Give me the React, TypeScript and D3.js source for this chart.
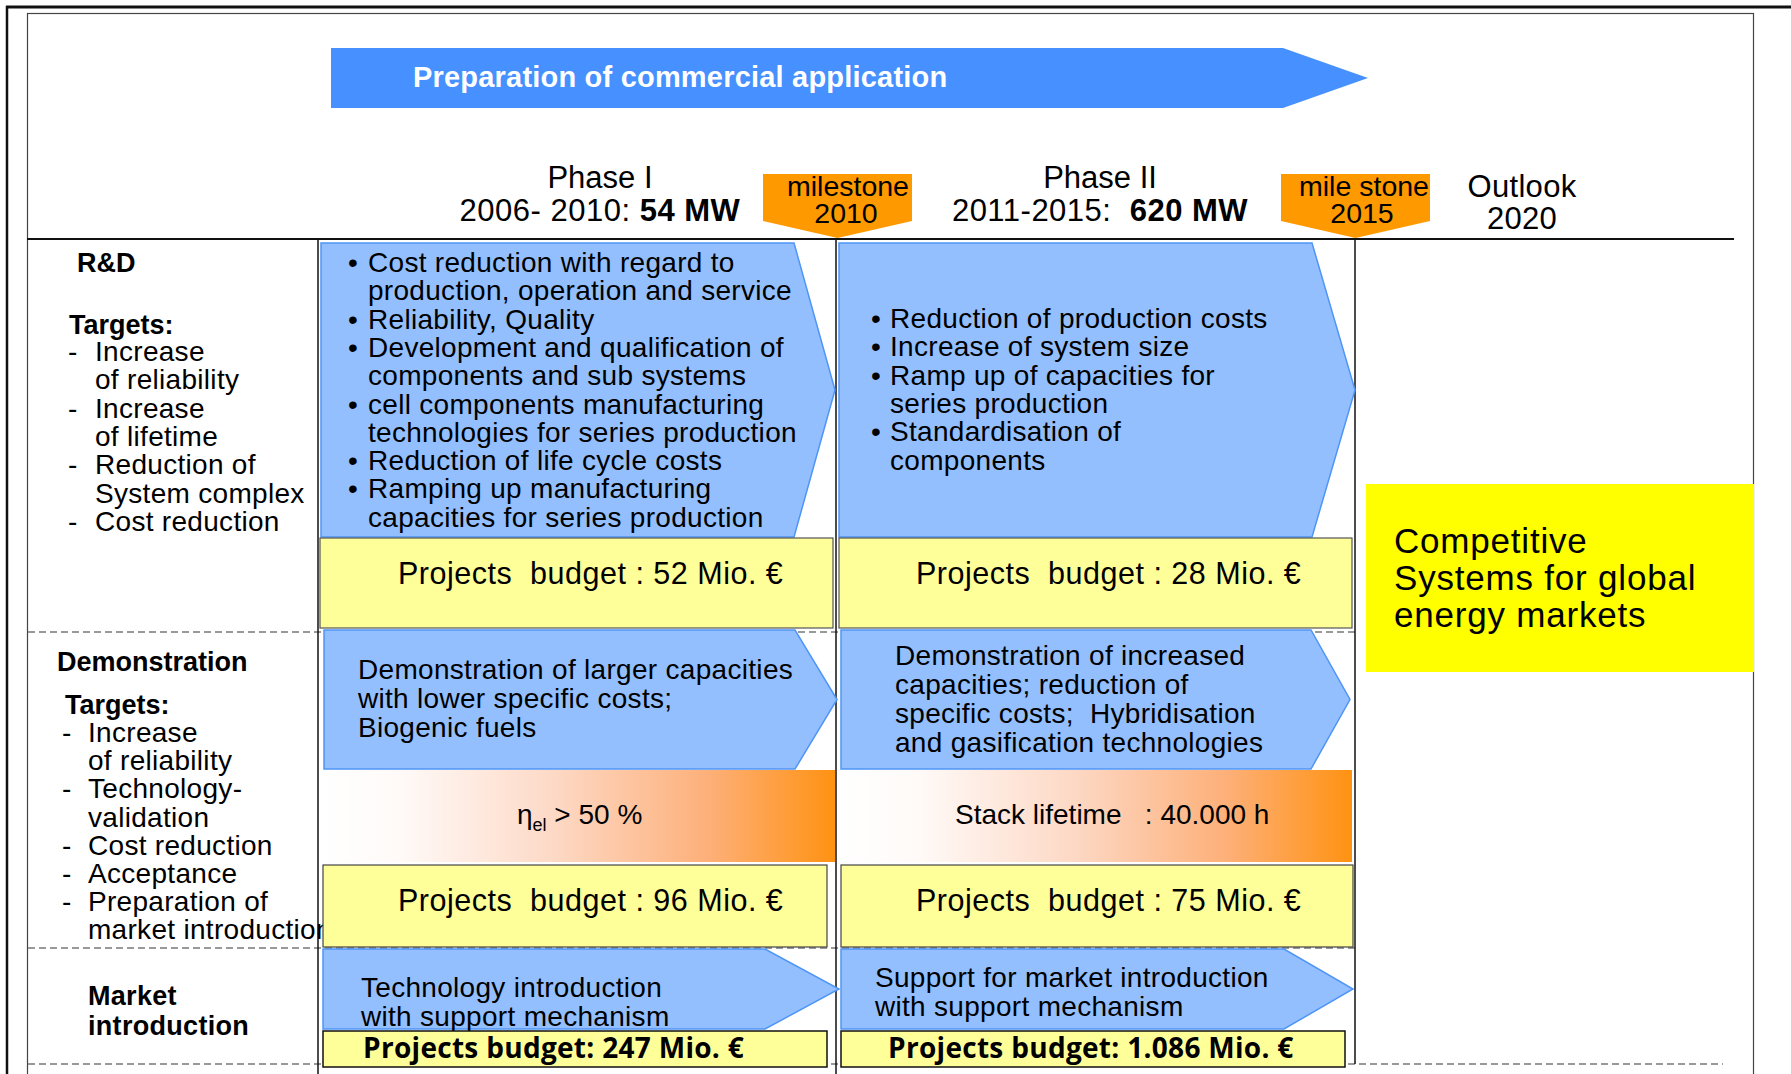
import React from "react";
import * as d3 from "d3";

// ---- content of the roadmap ----
const banner = "Preparation of commercial application";
const phases = ["Phase I", "Phase II"];
const periods = ["2006- 2010: ", "2011-2015:  "];
const capacities = ["54 MW", "620 MW"];
const milestoneWords = ["milestone", "mile stone"];
const milestoneYears = ["2010", "2015"];
const outlook = ["Outlook", "2020"];
const outlookGoal = ["Competitive", "Systems for global", "energy markets"];

const rowTitles = ["R&D", "Demonstration"];
const rdTargets = [
  ["Increase", "of reliability"],
  ["Increase", "of lifetime"],
  ["Reduction of", "System complex"],
  ["Cost reduction"],
];
const demoTargets = [
  ["Increase", "of reliability"],
  ["Technology-", "validation"],
  ["Cost reduction"],
  ["Acceptance"],
  ["Preparation of", "market introduction"],
];
const marketTitle = ["Market", "introduction"];

const rdTasksPhase1 = [
  ["Cost reduction with regard to", "production, operation and service"],
  ["Reliability, Quality"],
  ["Development and qualification of", "components and sub systems"],
  ["cell components manufacturing", "technologies for series production"],
  ["Reduction of life cycle costs"],
  ["Ramping up  manufacturing", "capacities for series production"],
];
const rdTasksPhase2 = [
  ["Reduction of production costs"],
  ["Increase of  system size"],
  ["Ramp up of capacities for", "series production"],
  ["Standardisation of", "components"],
];
const demoTasks = [
  ["Demonstration of larger capacities", "with lower specific costs;", "Biogenic fuels"],
  ["Demonstration of increased", "capacities; reduction of", "specific costs;  Hybridisation", "and gasification technologies"],
];
const kpiSymbol = ["η", ""];
const kpiSub = ["el", ""];
const kpiText = [" > 50 %", "Stack lifetime   : 40.000 h"];
const marketTasks = [
  ["Technology introduction", "with support mechanism"],
  ["Support for market introduction", "with support mechanism"],
];
const rdBudgets = ["52", "28"];
const demoBudgets = ["96", "75"];
const marketBudgets = ["247", "1.086"];

// ---- styling ----
const FONT = "'Liberation Sans', Arial, Helvetica, sans-serif";
const BOLDFONT = "'Open Sans', 'Noto Sans', sans-serif";
const BLUE = "#94bfff";
const BLUE_EDGE = "#4f95f5";
const BANNER = "#4690ff";
const ORANGE = "#ff9900";
const PALE_YELLOW = "#ffff99";
const YELLOW = "#ffff00";

const W = 1791;
const H = 1074;

function chevron(x0: number, y0: number, xb: number, xt: number, y1: number) {
  const p = d3.path();
  p.moveTo(x0, y0);
  p.lineTo(xb, y0);
  p.lineTo(xt, (y0 + y1) / 2);
  p.lineTo(xb, y1);
  p.lineTo(x0, y1);
  p.closePath();
  return p.toString();
}

function milestone(x0: number, x1: number, y0: number, yb: number, yt: number) {
  const p = d3.path();
  p.moveTo(x0, y0);
  p.lineTo(x1, y0);
  p.lineTo(x1, yb);
  p.lineTo((x0 + x1) / 2, yt);
  p.lineTo(x0, yb);
  p.closePath();
  return p.toString();
}

const lineScale = (y0: number, step: number) =>
  d3.scaleLinear().domain([0, 1]).range([y0, y0 + step]);

function Lines({ lines, x, y0, step, size, bold, anchor, spacing }: any) {
  const y = lineScale(y0, step);
  return (
    <g>
      {lines.map((t: string, i: number) => (
        <text
          key={i}
          x={x}
          y={y(i)}
          fontSize={size}
          fontWeight={bold ? "bold" : "normal"}
          textAnchor={anchor || "start"}
          style={{ whiteSpace: "pre", letterSpacing: spacing || "0.3px" }}
        >
          {t}
        </text>
      ))}
    </g>
  );
}

function Bullets({ items, mark, bx, tx, y0, step, size }: any) {
  const y = lineScale(y0, step);
  const flat = items.flatMap((it: string[]) => it.map((t, j) => ({ t, first: j === 0 })));
  return (
    <g fontSize={size} style={{ whiteSpace: "pre", letterSpacing: "0.3px" }}>
      {flat.map((l: any, i: number) => (
        <g key={i}>
          {l.first && (
            <text x={bx} y={y(i)}>
              {mark}
            </text>
          )}
          <text x={tx} y={y(i)}>
            {l.t}
          </text>
        </g>
      ))}
    </g>
  );
}

const phaseX = [
  { hdr: 600, ms: [763, 912], msText: 848, rd: [321, 794, 835], rdBox: [320, 833], demo: [324, 795, 837], grad: [322, 835], demoBox: [323, 827], mk: [323, 765, 839], mkBox: [323, 827], bullet: 348, text: 368, rdY: 272, budgetX: 398, demoX: 358, demoY: 679, kpiX: 517, mkX: 361, mkY: 997, mkBudgetX: 363 },
  { hdr: 1100, ms: [1281, 1430], msText: 1364, rd: [839, 1312, 1355], rdBox: [839, 1352], demo: [841, 1311, 1350], grad: [841, 1352], demoBox: [841, 1353], mk: [841, 1284, 1353], mkBox: [841, 1345], bullet: 871, text: 890, rdY: 328, budgetX: 916, demoX: 895, demoY: 665, kpiX: 955, mkX: 875, mkY: 987, mkBudgetX: 888 },
];
const rdTasks = [rdTasksPhase1, rdTasksPhase2];

export default function App() {
  const budgetStyle = { whiteSpace: "pre", letterSpacing: "0.5px" } as any;
  return (
    <svg
      width={W}
      height={H}
      viewBox={`0 0 ${W} ${H}`}
      style={{ position: "absolute", left: 0, top: 0, background: "#fff" }}
      fontFamily={FONT}
    >
      <defs>
        <linearGradient id="kpi" x1="0" x2="1" y1="0" y2="0">
          <stop offset="0" stopColor="#ffffff" />
          <stop offset="0.15" stopColor="#fffaf8" />
          <stop offset="0.45" stopColor="#fdd9c6" />
          <stop offset="0.75" stopColor="#fdb07a" />
          <stop offset="1" stopColor="#ff9212" />
        </linearGradient>
      </defs>
      <rect width={W} height={H} fill="#fff" />

      {/* frames */}
      <line x1={6} x2={W} y1={7} y2={7} stroke="#111" strokeWidth={3} />
      <line x1={7} x2={7} y1={6} y2={H} stroke="#111" strokeWidth={2.5} />
      <rect x={27.5} y={13.5} width={1726} height={H + 10} fill="none" stroke="#444" strokeWidth={1.2} />

      {/* banner */}
      <path d={chevron(331, 48, 1283, 1368, 108)} fill={BANNER} />
      <text x={413} y={87} fill="#fff" fontSize={29} fontWeight="bold" style={{ letterSpacing: "0.2px" }}>
        {banner}
      </text>

      {/* header */}
      {phases.map((p, i) => (
        <g key={p}>
          <text x={phaseX[i].hdr} y={188} fontSize={31} textAnchor="middle">
            {p}
          </text>
          <text x={phaseX[i].hdr} y={221} fontSize={31} textAnchor="middle" style={{ whiteSpace: "pre", letterSpacing: "0.5px" }}>
            {periods[i]}
            <tspan fontWeight="bold">{capacities[i]}</tspan>
          </text>
          <path d={milestone(phaseX[i].ms[0], phaseX[i].ms[1], 174, 221, 238)} fill={ORANGE} />
          <text x={phaseX[i].msText} y={196} fontSize={28.5} textAnchor="middle" style={{ whiteSpace: "pre" }}>
            {milestoneWords[i]}
          </text>
          <text x={phaseX[i].msText - 2} y={223} fontSize={28.5} textAnchor="middle">
            {milestoneYears[i]}
          </text>
        </g>
      ))}
      <Lines lines={outlook} x={1522} y0={197} step={32} size={31} anchor="middle" />

      {/* grid lines */}
      <line x1={27} x2={1734} y1={239} y2={239} stroke="#111" strokeWidth={2} />
      <g stroke="#999" strokeWidth={2} strokeDasharray="7 4">
        <line x1={28} x2={1356} y1={632} y2={632} />
        <line x1={28} x2={1356} y1={948} y2={948} />
        <line x1={28} x2={1723} y1={1064} y2={1064} />
      </g>
      <g stroke="#111" strokeWidth={1.5}>
        <line x1={318} x2={318} y1={239} y2={H} />
        <line x1={836} x2={836} y1={239} y2={H} />
        <line x1={1355} x2={1355} y1={239} y2={1064} />
      </g>

      {/* left column labels */}
      <text x={77} y={272} fontSize={27} fontWeight="bold">{rowTitles[0]}</text>
      <text x={69} y={334} fontSize={27} fontWeight="bold">Targets:</text>
      <Bullets items={rdTargets} mark="-" bx={68} tx={95} y0={361} step={28.3} size={28} />
      <text x={57} y={671} fontSize={27} fontWeight="bold">{rowTitles[1]}</text>
      <text x={65} y={714} fontSize={27} fontWeight="bold">Targets:</text>
      <Bullets items={demoTargets} mark="-" bx={62} tx={88} y0={742} step={28.2} size={28} />
      <Lines lines={marketTitle} x={88} y0={1005} step={30} size={27} bold />

      {/* phase columns */}
      {phases.map((p, i) => {
        const c = phaseX[i];
        return (
          <g key={"col" + p}>
            {/* R&D */}
            <path d={chevron(c.rd[0], 243, c.rd[1], c.rd[2], 537)} fill={BLUE} stroke={BLUE_EDGE} strokeWidth={1.5} />
            <Bullets items={rdTasks[i]} mark="•" bx={c.bullet} tx={c.text} y0={c.rdY} step={28.3} size={28} />
            <rect x={c.rdBox[0]} y={538} width={c.rdBox[1] - c.rdBox[0]} height={90} fill={PALE_YELLOW} stroke="#555" strokeWidth={1.2} />
            <text x={c.budgetX} y={584} fontSize={30.5} style={budgetStyle}>
              {`Projects  budget : ${rdBudgets[i]} Mio. €`}
            </text>

            {/* Demonstration */}
            <path d={chevron(c.demo[0], 630, c.demo[1], c.demo[2], 769)} fill={BLUE} stroke={BLUE_EDGE} strokeWidth={1.5} />
            <Lines lines={demoTasks[i]} x={c.demoX} y0={c.demoY} step={29} size={28} />
            <rect x={c.grad[0]} y={770} width={c.grad[1] - c.grad[0]} height={92} fill="url(#kpi)" />
            <text x={c.kpiX} y={824} fontSize={28} style={{ whiteSpace: "pre" }}>
              {kpiSymbol[i]}
              {kpiSub[i] && (
                <tspan fontSize={18} dy={7}>
                  {kpiSub[i]}
                </tspan>
              )}
              {kpiSub[i] ? <tspan dy={-7}>{kpiText[i]}</tspan> : kpiText[i]}
            </text>
            <rect x={c.demoBox[0]} y={865} width={c.demoBox[1] - c.demoBox[0]} height={82} fill={PALE_YELLOW} stroke="#444" strokeWidth={1.2} />
            <text x={c.budgetX} y={911} fontSize={30.5} style={budgetStyle}>
              {`Projects  budget : ${demoBudgets[i]} Mio. €`}
            </text>

            {/* Market introduction */}
            <path d={chevron(c.mk[0], 949, c.mk[1], c.mk[2], 1029)} fill={BLUE} stroke={BLUE_EDGE} strokeWidth={1.5} />
            <Lines lines={marketTasks[i]} x={c.mkX} y0={c.mkY} step={28.5} size={28} />
            <rect x={c.mkBox[0]} y={1031} width={c.mkBox[1] - c.mkBox[0]} height={36} fill={PALE_YELLOW} stroke="#111" strokeWidth={1.5} />
            <text x={c.mkBudgetX} y={1058} fontSize={28} fontWeight="bold" fontFamily={BOLDFONT} style={{ whiteSpace: "pre", letterSpacing: "0.3px" }}>
              {`Projects budget: ${marketBudgets[i]} Mio. €`}
            </text>
          </g>
        );
      })}

      {/* outlook */}
      <rect x={1366} y={484} width={388} height={188} fill={YELLOW} />
      <Lines lines={outlookGoal} x={1394} y0={553} step={37} size={35} spacing="0.8px" />
    </svg>
  );
}
